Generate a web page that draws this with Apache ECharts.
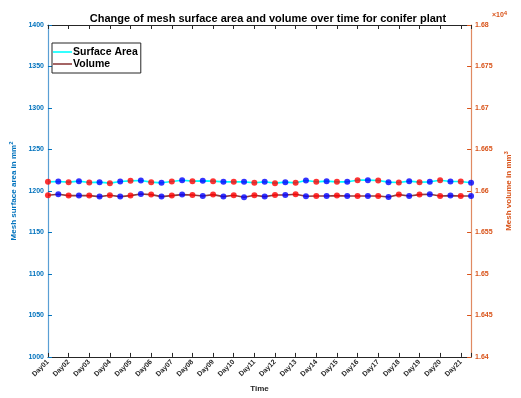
<!DOCTYPE html>
<html>
<head>
<meta charset="utf-8">
<script src="https://cdn.jsdelivr.net/npm/echarts@6/dist/echarts.min.js"></script>
<style>html,body{margin:0;padding:0;background:#fff}#c{width:521px;height:398px}</style>
</head>
<body>
<div id="c"></div>
<script>
const days = ['Day01','Day02','Day03','Day04','Day05','Day06','Day07','Day08','Day09','Day10','Day11','Day12','Day13','Day14','Day15','Day16','Day17','Day18','Day19','Day20','Day21'];
const times = [1,1.5,2,2.5,3,3.5,4,4.5,5,5.5,6,6.5,7,7.5,8,8.5,9,9.5,10,10.5,11,11.5,12,12.5,13,13.5,14,14.5,15,15.5,16,16.5,17,17.5,18,18.5,19,19.5,20,20.5,21,21.5];
const surfaceArea = [1211.0,1211.4,1210.6,1211.8,1210.2,1210.6,1209.4,1211.4,1212.2,1212.6,1210.6,1209.8,1211.4,1213.0,1211.8,1212.2,1211.8,1211.0,1211.0,1211.0,1209.8,1211.0,1209.4,1210.6,1209.8,1212.6,1211.0,1211.8,1211.0,1211.0,1213.0,1213.0,1212.6,1210.6,1210.2,1211.8,1210.6,1211.0,1213.0,1211.4,1211.4,1209.8];
const volume = [16594.8,16596.0,16594.4,16594.4,16594.4,16593.2,16594.8,16593.2,16594.4,16596.4,16595.6,16593.2,16594.4,16595.6,16595.2,16594.0,16595.6,16593.2,16594.8,16592.4,16594.8,16593.2,16595.2,16595.2,16596.0,16593.6,16594.0,16594.0,16594.4,16594.0,16594.0,16594.0,16594.0,16592.8,16595.6,16594.0,16595.6,16596.0,16594.0,16594.4,16594.0,16594.0];

const BLUE = '#0072BD', ORANGE = '#D95319', DARK = '#262626';
const FONT = "'Liberation Sans', Arial, Helvetica, sans-serif";
const markerColor = p => (p.dataIndex % 2 === 0 ? '#FF0000' : '#0000FF');
const sa = times.map((t, i) => [t, surfaceArea[i]]);
const vo = times.map((t, i) => [t, volume[i]]);

const chart = echarts.init(document.getElementById('c'), null, {renderer: 'canvas'});
chart.setOption({
  animation: false,
  backgroundColor: '#fff',
  title: {
    text: 'Change of mesh surface area and volume over time for conifer plant',
    left: 263, top: 8, textAlign: 'center',
    textStyle: {fontFamily: FONT, fontSize: 11, fontWeight: 'bold', color: '#000'}
  },
  graphic: [{
    type: 'text', left: 492, top: 10,
    style: {
      text: '×10{s|4}', fill: ORANGE, font: "bold 7px 'Liberation Sans', Arial, sans-serif",
      rich: {s: {fontSize: 6, fontWeight: 'bold', fill: ORANGE, verticalAlign: 'top', padding: [0,0,5,0]}}
    }
  }],
  legend: {
    orient: 'vertical', left: 52, top: 43,
    backgroundColor: '#fff', borderColor: DARK, borderWidth: 1,
    padding: [3, 3, 3, 1], itemGap: 0, itemWidth: 19, itemHeight: 1.6,
    icon: 'rect',
    textStyle: {fontFamily: FONT, fontSize: 10.5, fontWeight: 'bold', color: '#000', padding: [0,0,0,-4], lineHeight: 12, height: 12},
    data: ['Surface Area', 'Volume']
  },
  grid: {left: 39, right: 36, top: 25, bottom: 36},
  xAxis: [{
    type: 'value', min: 1, max: 21.5, interval: 1, position: 'bottom',
    name: 'Time', nameLocation: 'middle', nameGap: 27,
    nameTextStyle: {fontFamily: FONT, fontSize: 8, fontWeight: 'bold', color: DARK},
    axisLine: {show: true, lineStyle: {color: DARK, width: 1}},
    axisTick: {show: true, inside: true, length: 4, lineStyle: {color: DARK}},
    axisLabel: {
      rotate: 45, fontFamily: FONT, fontSize: 7, fontWeight: 'bold', color: DARK, margin: 4,
      formatter: v => (Number.isInteger(v) && v >= 1 && v <= days.length ? days[v - 1] : '')
    },
    splitLine: {show: false}
  }, {
    type: 'value', min: 1, max: 21.5, interval: 1, position: 'top',
    axisLine: {show: true, lineStyle: {color: DARK, width: 1}},
    axisTick: {show: true, inside: true, length: 4, lineStyle: {color: DARK}},
    axisLabel: {show: false}, splitLine: {show: false}
  }],
  yAxis: [{
    type: 'value', min: 1000, max: 1400, interval: 50, position: 'left',
    name: 'Mesh surface area in mm{s|2}', nameLocation: 'middle', nameGap: 20, nameRotate: 90,
    nameTextStyle: {fontFamily: FONT, fontSize: 8, fontWeight: 'bold', color: BLUE,
      rich: {s: {fontSize: 6, fontWeight: 'bold', color: BLUE, verticalAlign: 'top', padding: [0,0,5,0]}}},
    axisLine: {show: true, lineStyle: {color: '#5a9fd4', width: 1.2}},
    axisTick: {show: true, inside: true, length: 4, lineStyle: {color: BLUE}},
    axisLabel: {fontFamily: FONT, fontSize: 7, fontWeight: 'bold', color: BLUE, margin: 4,
      formatter: v => String(v)},
    splitLine: {show: false}
  }, {
    type: 'value', min: 16400, max: 16800, interval: 50, position: 'right',
    name: 'Mesh volume in mm{s|3}', nameLocation: 'middle', nameGap: 26, nameRotate: 90,
    nameTextStyle: {fontFamily: FONT, fontSize: 8, fontWeight: 'bold', color: ORANGE,
      rich: {s: {fontSize: 6, fontWeight: 'bold', color: ORANGE, verticalAlign: 'top', padding: [0,0,5,0]}}},
    axisLine: {show: true, lineStyle: {color: '#e08a62', width: 1.2}},
    axisTick: {show: true, inside: true, length: 4, lineStyle: {color: ORANGE}},
    axisLabel: {fontFamily: FONT, fontSize: 7, fontWeight: 'bold', color: ORANGE, margin: 4,
      formatter: v => parseFloat((v / 10000).toFixed(4)).toString()},
    splitLine: {show: false}
  }],
  series: [{
    name: 'Surface Area', type: 'line', xAxisIndex: 0, yAxisIndex: 0, data: sa,
    symbol: 'none', lineStyle: {color: '#00FFFF', width: 1.6}, itemStyle: {color: '#00FFFF'}, z: 2
  }, {
    name: 'Volume', type: 'line', xAxisIndex: 0, yAxisIndex: 1, data: vo,
    symbol: 'none', lineStyle: {color: '#8E3E3E', width: 1.6}, itemStyle: {color: '#8E3E3E'}, z: 2
  }, {
    name: 'saMarkers', type: 'scatter', xAxisIndex: 0, yAxisIndex: 0, data: sa,
    symbolSize: 6, itemStyle: {color: markerColor}, z: 3
  }, {
    name: 'voMarkers', type: 'scatter', xAxisIndex: 0, yAxisIndex: 1, data: vo,
    symbolSize: 6, itemStyle: {color: markerColor}, z: 3
  }]
});
</script>
</body>
</html>
